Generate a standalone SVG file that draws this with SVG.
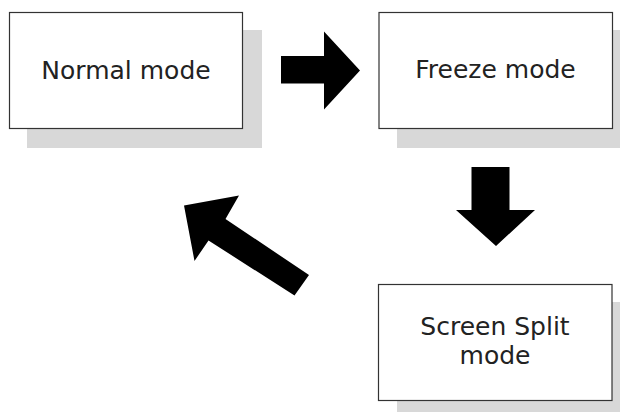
<svg xmlns="http://www.w3.org/2000/svg" width="620" height="412" viewBox="0 0 620 412">
<style>
.shadow{fill:#d8d8d8;stroke:none}
.box{fill:#ffffff;stroke:#333333;stroke-width:1.2}
.lbl{font-family:"DejaVu Sans","Liberation Sans",sans-serif;font-size:25px;fill:#222222;text-anchor:middle}
.arrow{fill:#000000;stroke:none}
</style>
<rect width="620" height="412" fill="#ffffff"/>
<g id="normal">
<rect class="shadow" x="27" y="30" width="235" height="118"/>
<rect class="box" x="9.5" y="12.5" width="233" height="116"/>
<text class="lbl" x="126" y="78.5">Normal mode</text>
</g>
<g id="freeze">
<rect class="shadow" x="397" y="30" width="223" height="118"/>
<rect class="box" x="379" y="12.5" width="233.5" height="116"/>
<text class="lbl" x="495.5" y="77.5">Freeze mode</text>
</g>
<g id="split">
<rect class="shadow" x="397" y="302" width="223" height="110"/>
<rect class="box" x="378.5" y="284.5" width="233.5" height="116"/>
<text class="lbl" x="495" y="335">Screen Split</text>
<text class="lbl" x="495" y="363.5">mode</text>
</g>
<g id="connectors">
<polygon class="arrow" points="281,56 324,56 324,31.5 360,70.5 324,109.5 324,83.5 281,83.5"/>
<polygon class="arrow" points="471.5,167 509.5,167 509.5,210 535,210 496,246 456,210 471.5,210"/>
<polygon class="arrow" points="184,205.5 239,195.5 225.5,219 309,275 294.5,295.5 208.5,240.5 194.5,261"/>
</g>
</svg>
